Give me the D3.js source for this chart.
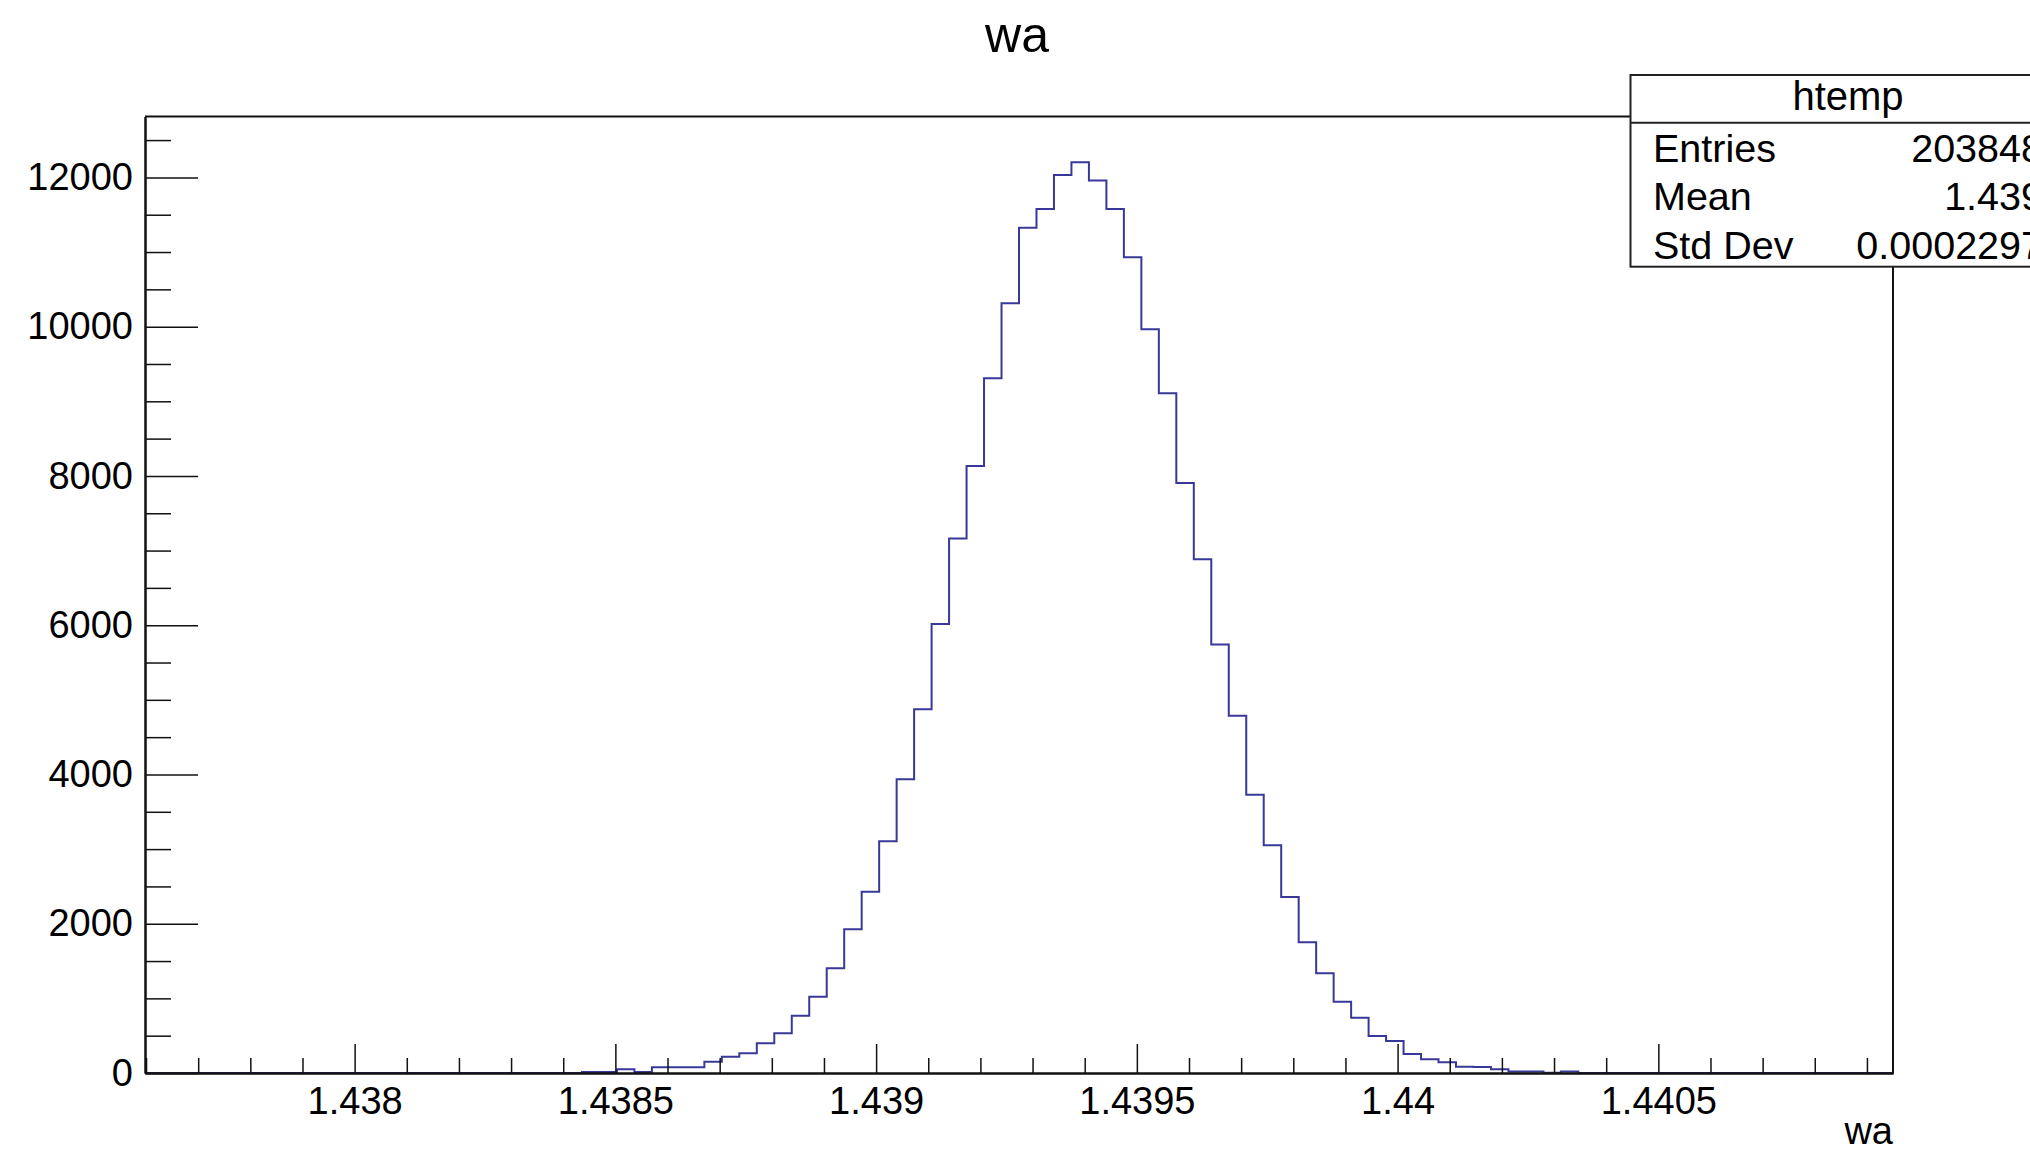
<!DOCTYPE html>
<html>
<head>
<meta charset="utf-8">
<script src="https://cdn.jsdelivr.net/npm/d3@7"></script>
<style>
  html, body { margin: 0; padding: 0; background: #fff; overflow: hidden; }
  svg { display: block; }
  text { font-family: "Liberation Sans", Arial, Helvetica, sans-serif; fill: #000; }
</style>
</head>
<body>
<svg id="chart" width="2030" height="1151"></svg>
<script>
// ---------------- data ----------------
const chartTitle = "wa";
const xAxisTitle = "wa";
const histName = "htemp";
const binLow = 1.437598;
const binHigh = 1.44095;
const nBins = 100;
const counts = [
  0, 0, 0, 0, 0, 0, 0, 0, 0, 0,
  0, 0, 0, 0, 0, 0, 0, 0, 0, 0,
  0, 0, 0, 0, 0, 15, 15, 50, 15, 76,
  76, 76, 152, 219, 264, 398, 532, 768, 1023, 1403,
  1925, 2428, 3104, 3936, 4873, 6017, 7161, 8132, 9309, 10314,
  11327, 11577, 12033, 12203, 11957, 11577, 10930, 9965, 9108, 7907,
  6884, 5740, 4786, 3728, 3052, 2358, 1751, 1336, 955, 741,
  496, 429, 255, 183, 143, 85, 80, 50, 20, 20,
  5, 20, 0, 0, 0, 0, 0, 0, 0, 0,
  0, 0, 0, 0, 0, 0, 0, 0, 0, 0
];
const yMax = 12816;
const xMajorTicks = [1.438, 1.4385, 1.439, 1.4395, 1.44, 1.4405];
const xMajorLabels = ["1.438", "1.4385", "1.439", "1.4395", "1.44", "1.4405"];
const xMinorStep = 0.0001;
const yMajorTicks = [0, 2000, 4000, 6000, 8000, 10000, 12000];
const yMajorLabels = ["0", "2000", "4000", "6000", "8000", "10000", "12000"];
const yMinorStep = 500;
const statLabels = ["Entries", "Mean", "Std Dev"];
const statValues = ["203848", "1.439", "0.0002297"];

// ---------------- layout ----------------
const frame = { left: 145, right: 1893, top: 116.5, bottom: 1073 };
const svg = d3.select("#chart");

const x = d3.scaleLinear().domain([binLow, binHigh]).range([frame.left, frame.right]);
const y = d3.scaleLinear().domain([0, yMax]).range([frame.bottom, frame.top]);

const binWidth = (binHigh - binLow) / nBins;
const edges = d3.range(nBins + 1).map(i => binLow + i * binWidth);

// histogram outline
const pts = [[edges[0], 0]];
counts.forEach((c, i) => pts.push([edges[i], c]));
pts.push([edges[nBins], counts[nBins - 1]]);
pts.push([edges[nBins], 0]);
const line = d3.line().x(d => x(d[0])).y(d => y(d[1])).curve(d3.curveStepAfter);

svg.append("path")
  .attr("d", line(pts))
  .attr("fill", "none")
  .attr("stroke", "#383898")
  .attr("stroke-width", 2);

// minor ticks
const xMinor = d3.range(Math.ceil(binLow / xMinorStep), Math.floor(binHigh / xMinorStep) + 1)
  .map(k => +(k * xMinorStep).toFixed(6))
  .filter(v => v > binLow && v < binHigh && !xMajorTicks.some(m => Math.abs(m - v) < 1e-9));
const yMinor = d3.range(0, yMax, yMinorStep).filter(v => v % 2000 !== 0);

const gxMinor = svg.append("g").attr("transform", `translate(0,${frame.bottom})`)
  .call(d3.axisBottom(x).tickValues(xMinor).tickSize(-15).tickSizeOuter(0).tickFormat(""));
const gyMinor = svg.append("g").attr("transform", `translate(${frame.left},0)`)
  .call(d3.axisLeft(y).tickValues(yMinor).tickSize(-26).tickSizeOuter(0).tickFormat(""));

const gx = svg.append("g").attr("transform", `translate(0,${frame.bottom})`)
  .call(d3.axisBottom(x).tickValues(xMajorTicks).tickSize(-29).tickSizeOuter(0).tickPadding(14)
    .tickFormat((d, i) => xMajorLabels[i]));
const gy = svg.append("g").attr("transform", `translate(${frame.left},0)`)
  .call(d3.axisLeft(y).tickValues(yMajorTicks).tickSize(-53).tickSizeOuter(0).tickPadding(12)
    .tickFormat((d, i) => yMajorLabels[i]));

[gxMinor, gyMinor, gx, gy].forEach(g => {
  g.selectAll("line").attr("stroke", "#111").attr("stroke-width", 1.5);
  g.select(".domain").attr("stroke", "#111").attr("stroke-width", 2);
  g.selectAll("text").attr("font-size", 38).attr("fill", "#000")
    .attr("font-family", '"Liberation Sans", Arial, sans-serif');
});

// frame top/right
svg.append("path")
  .attr("d", `M${frame.left},${frame.top}H${frame.right}V${frame.bottom}`)
  .attr("fill", "none").attr("stroke", "#111").attr("stroke-width", 2);

// title
svg.append("text").attr("x", 1017).attr("y", 52).attr("text-anchor", "middle")
  .attr("font-size", 50).text(chartTitle);

// x axis title
svg.append("text").attr("x", frame.right).attr("y", 1144).attr("text-anchor", "end")
  .attr("font-size", 38).text(xAxisTitle);

// stats box
const box = { x: 1630.5, y: 75, w: 435, h: 191.7, head: 122.7 };
const sb = svg.append("g");
sb.append("rect").attr("x", box.x).attr("y", box.y).attr("width", box.w).attr("height", box.h)
  .attr("fill", "#fff").attr("stroke", "#222").attr("stroke-width", 2);
sb.append("line").attr("x1", box.x).attr("x2", box.x + box.w).attr("y1", box.head).attr("y2", box.head)
  .attr("stroke", "#222").attr("stroke-width", 2);
sb.append("text").attr("x", box.x + box.w / 2).attr("y", 110).attr("text-anchor", "middle")
  .attr("font-size", 40).text(histName);
const rowBase = [161.6, 210.4, 258.7];
statLabels.forEach((s, i) => {
  sb.append("text").attr("x", 1653).attr("y", rowBase[i]).attr("font-size", 39.5).text(s);
  sb.append("text").attr("x", 2043).attr("y", rowBase[i]).attr("text-anchor", "end")
    .attr("font-size", 39.5).text(statValues[i]);
});
</script>
</body>
</html>
